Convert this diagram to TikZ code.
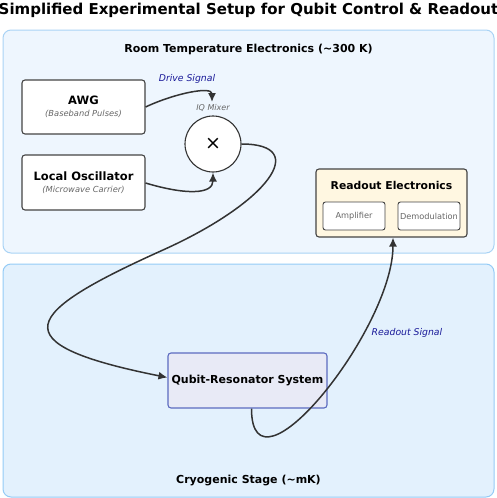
\documentclass[tikz,border=0pt]{standalone}
\usepackage{fontspec}
\setmainfont{DejaVu Sans}
\usetikzlibrary{arrows.meta}
\definecolor{roomfill}{HTML}{EEF6FE}
\definecolor{roomdraw}{HTML}{A9D3F5}
\definecolor{cryofill}{HTML}{E3F1FD}
\definecolor{cryodraw}{HTML}{94CBF6}
\definecolor{rofill}{HTML}{FFF7E1}
\definecolor{qfill}{HTML}{E8EAF6}
\definecolor{qdraw}{HTML}{5C6BC0}
\definecolor{edge}{HTML}{333333}
\definecolor{boxdraw}{HTML}{444444}
\definecolor{sublab}{HTML}{666666}
\definecolor{siglab}{HTML}{1A1A99}
\tikzset{
  stage/.style={draw=#1, line width=1pt, rounded corners=8pt, inner sep=0pt},
  devbox/.style={draw=boxdraw, fill=white, line width=1.1pt, rounded corners=3pt, inner sep=0pt, align=center},
  smallbox/.style={draw=boxdraw, fill=white, line width=0.9pt, rounded corners=2.5pt, inner sep=0pt,
    minimum width=62pt, minimum height=28pt, font=\fontsize{8.2}{10}\selectfont, text=sublab},
  stagetitle/.style={font=\fontsize{11}{13}\selectfont\bfseries},
  sig/.style={font=\fontsize{9.3}{11}\selectfont\itshape, text=siglab},
  arr/.style={draw=edge, line width=1.5pt, -{Latex[length=9pt,width=8pt]}},
}
\begin{document}
\begin{tikzpicture}[x=1pt,y=-1pt]
\useasboundingbox (0,0) rectangle (497,498);
% title
\node[font=\fontsize{15}{17}\selectfont\bfseries] (title) at (248.5,10) {Simplified Experimental Setup for Qubit Control \& Readout};
% stages
\node[stage=roomdraw, fill=roomfill, minimum width=491pt, minimum height=223pt] (room) at (248.5,141.5) {};
\node[stagetitle] (roomt) at (248.5,49) {Room Temperature Electronics (\textasciitilde300 K)};
\node[stage=cryodraw, fill=cryofill, minimum width=491pt, minimum height=233pt] (cryo) at (248.5,380.5) {};
\node[stagetitle] (cryot) at (248.5,481) {Cryogenic Stage (\textasciitilde mK)};
% devices
\node[devbox, minimum width=123pt, minimum height=54pt] (awg) at (83.5,107)
  {{\fontsize{11.5}{13}\selectfont\bfseries AWG}\\[0pt]{\fontsize{8.3}{10}\selectfont\itshape\color{sublab}(Baseband Pulses)}};
\node[devbox, minimum width=123pt, minimum height=55pt] (lo) at (83.5,182.5)
  {{\fontsize{11.5}{13}\selectfont\bfseries Local Oscillator}\\[0pt]{\fontsize{8.3}{10}\selectfont\itshape\color{sublab}(Microwave Carrier)}};
\node[circle, draw=edge, fill=white, line width=1.1pt, minimum size=56pt, inner sep=0pt,
  font=\fontsize{19}{20}\selectfont] (mix) at (213,144) {×};
\node[font=\fontsize{8}{9}\selectfont\itshape, text=sublab] (mixl) at (213,108) {IQ Mixer};
\coordinate (mixin) at (212,102);
\node[sig] (drive) at (187,79) {Drive Signal};
% readout electronics
\node[devbox, fill=rofill, minimum width=151pt, minimum height=68pt] (ro) at (391.5,203) {};
\node[font=\fontsize{10.8}{12}\selectfont\bfseries] (rot) at (391.5,185) {Readout Electronics};
\node[smallbox] (amp) at (354,216) {Amplifier};
\node[smallbox] (demod) at (429,216) {Demodulation};
% qubit
\node[draw=qdraw, fill=qfill, line width=1.1pt, rounded corners=3pt, minimum width=159pt, minimum height=55pt,
  inner sep=0pt, font=\fontsize{11}{13}\selectfont\bfseries] (q) at (247.5,380.5) {Qubit-Resonator System};
\node[sig] (rsig) at (407,333) {Readout Signal};
\coordinate (mid) at (163,250);
% connectors
\draw[arr] (awg.east) .. controls +(30,-14) and +(0,-16) .. (mixin);
\draw[arr] ([yshift=-0.5pt]lo.east) .. controls +(40,12) and +(0,22) .. (mix.south);
\draw[arr] (mix.east) .. controls +(70,0) and +(105,-47.25) .. (mid)
  .. controls +(-140,63) and +(-170,-34) .. ([yshift=3pt]q.west);
\draw[arr] ([xshift=4pt]q.south) .. controls +(0,97) and +(0,92) .. ([xshift=1.5pt]ro.south);
\end{tikzpicture}
\end{document}
